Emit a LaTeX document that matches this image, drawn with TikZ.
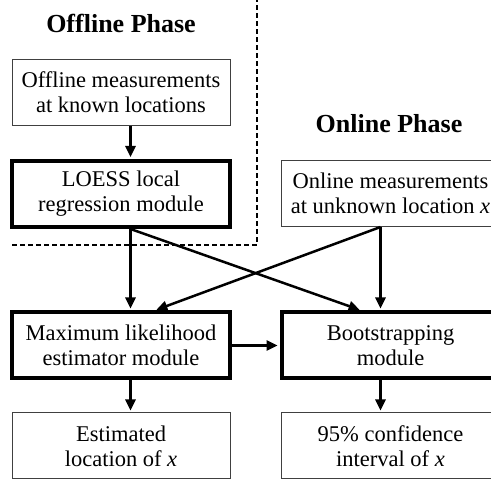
\documentclass[tikz,border=0pt]{standalone}
\usepackage{fontspec}
\setmainfont{Liberation Serif}
\usetikzlibrary{arrows.meta, positioning}

\tikzset{
  databox/.style={draw=black!75, line width=1pt, minimum width=218pt, minimum height=66pt,
    inner sep=0pt, align=center, font=\fontsize{22.5}{25}\selectfont},
  modbox/.style={databox, draw=black, line width=4pt, minimum height=66pt},
  phase/.style={font=\fontsize{26}{30}\selectfont\bfseries, anchor=base},
  divider/.style={line width=1.5pt, dash pattern=on 5pt off 3pt},
}

\begin{document}
\begin{tikzpicture}[x=1pt, y=-1pt, ->, >={Triangle[length=11pt,width=10pt]},
  line width=2.5pt, node distance=101.5pt]

  \useasboundingbox (0,0) rectangle (491,481);

  % offline part
  \node[phase] (offtitle) at (121,33) {Offline Phase};
  \node[databox] (offm) at (121,92.5) {Offline measurements\\at known locations};
  \node[modbox] (loess) [below of=offm] {LOESS local\\regression module};
  \draw[-, divider] (12,245) -- (257,245) -- (257,0);

  % modules
  \node[modbox] (mle) [below of=loess, node distance=151.5pt] {Maximum likelihood\\estimator module};
  \node[modbox] (boot) [right of=mle, node distance=269.5pt] {Bootstrapping\\module};
  \node[databox] (est) [below of=mle, node distance=100.5pt] {Estimated\\location of \textit{x}};
  \node[databox] (conf) [below of=boot, node distance=100.5pt] {95\% confidence\\interval of \textit{x}};

  % online part
  \node[databox] (onm) [above of=boot, node distance=152pt] {Online measurements\\at unknown location \textit{x}};
  \node[phase] (ontitle) at (389,133) {Online Phase};

\path[shorten >=2pt]
([xshift=9.5pt]offm.south)  edge ([xshift=9.5pt]loess.north)
([xshift=9.5pt]loess.south) edge ([xshift=9.5pt]mle.north)
                            edge ([xshift=-29pt]boot.north)
([xshift=-10pt]onm.south)   edge ([xshift=33.5pt]mle.north)
                            edge ([xshift=-10pt]boot.north)
(mle.east)                  edge (boot.west)
([xshift=9.5pt]mle.south)   edge ([xshift=9.5pt]est.north)
([xshift=-10pt]boot.south)  edge ([xshift=-10pt]conf.north);

\end{tikzpicture}
\end{document}
